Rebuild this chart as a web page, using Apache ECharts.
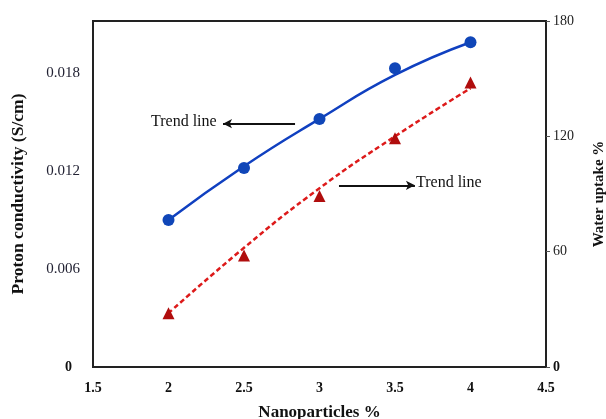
<!DOCTYPE html>
<html>
<head>
<meta charset="utf-8">
<script src="https://cdn.jsdelivr.net/npm/echarts@6/dist/echarts.min.js"></script>
<style>
  html, body { margin: 0; padding: 0; background: #fff; }
  #chart { width: 606px; height: 419px; }
</style>
</head>
<body>
<div id="chart"></div>
<script>
  // nanoparticle loading (%)
  var loading = [2, 2.5, 3, 3.5, 4];
  // measured values
  var conductivity = [0.0090, 0.0122, 0.0152, 0.0183, 0.0199];
  var waterUptake = [28, 58, 89, 119, 148];
  // trend lines
  var conductivityTrend = [0.0090, 0.0123, 0.0152, 0.0179, 0.0199];
  var uptakeTrend = [28, 62, 93, 120, 145];

  function pairs(xs, ys) {
    return xs.map(function (x, i) { return [x, ys[i]]; });
  }

  var serif = 'Liberation Serif';
  var chart = echarts.init(document.getElementById('chart'));

  var option = {
    animation: false,
    grid: {
      left: 93, right: 60, top: 21, bottom: 52,
      outerBoundsMode: 'none', containLabel: false,
      show: true, borderColor: '#222', borderWidth: 2
    },
    xAxis: {
      type: 'value',
      min: 1.5, max: 4.5, interval: 0.5,
      name: 'Nanoparticles %',
      nameLocation: 'middle', nameGap: 37,
      nameTextStyle: { fontFamily: serif, fontSize: 17, fontWeight: 'bold', color: '#111' },
      axisLine: { lineStyle: { color: '#222', width: 2 } },
      axisTick: { show: false },
      splitLine: { show: false },
      axisLabel: { fontFamily: serif, fontSize: 14, fontWeight: 'bold', color: '#111', margin: 14 }
    },
    yAxis: [{
      type: 'value',
      min: 0, max: 0.0212, interval: 0.006,
      name: 'Proton conductivity (S/cm)',
      nameLocation: 'middle', nameGap: 66,
      nameTextStyle: { fontFamily: serif, fontSize: 17.5, fontWeight: 'bold', color: '#111' },
      axisLine: { show: true, lineStyle: { color: '#222', width: 2 } },
      axisTick: { show: false },
      splitLine: { show: false },
      axisLabel: {
        fontFamily: serif, fontSize: 15, color: '#223', margin: 13, showMaxLabel: false,
        formatter: function (v) { return v === 0 ? '{b|0}' : v.toFixed(3); },
        rich: { b: { fontFamily: serif, fontSize: 14, fontWeight: 'bold', color: '#111', padding: [0, 8, 0, 0] } }
      }
    }, {
      type: 'value',
      position: 'right',
      min: 0, max: 180, interval: 60,
      name: 'Water uptake %',
      nameLocation: 'middle', nameGap: 46, nameRotate: 90,
      nameTextStyle: { fontFamily: serif, fontSize: 15, fontWeight: 'bold', color: '#111' },
      axisLine: { show: true, lineStyle: { color: '#222', width: 2 } },
      axisTick: { show: true, length: 4, lineStyle: { color: '#555' } },
      splitLine: { show: false },
      axisLabel: {
        fontFamily: serif, fontSize: 14, color: '#222', margin: 7,
        formatter: function (v) { return v === 0 ? '{b|0}' : v; },
        rich: { b: { fontFamily: serif, fontSize: 14, fontWeight: 'bold', color: '#111' } }
      }
    }],
    series: [{
      name: 'Conductivity trend',
      type: 'line', yAxisIndex: 0, smooth: true, showSymbol: false,
      data: pairs(loading, conductivityTrend),
      lineStyle: { color: '#1040c0', width: 2.5 },
      z: 2
    }, {
      name: 'Proton conductivity',
      type: 'scatter', yAxisIndex: 0,
      data: pairs(loading, conductivity),
      symbol: 'circle', symbolSize: 12,
      itemStyle: { color: '#1046b8', opacity: 1 },
      z: 3
    }, {
      name: 'Uptake trend',
      type: 'line', yAxisIndex: 1, smooth: true, showSymbol: false,
      data: pairs(loading, uptakeTrend),
      lineStyle: { color: '#dd1a1a', width: 2.5, type: [5, 3] },
      z: 2
    }, {
      name: 'Water uptake',
      type: 'scatter', yAxisIndex: 1,
      data: pairs(loading, waterUptake),
      symbol: 'triangle', symbolSize: 12,
      itemStyle: { color: '#b00d0d', opacity: 1 },
      z: 3,
      markLine: {
        silent: true,
        symbol: ['none', 'arrow'], symbolSize: [7, 9],
        lineStyle: { color: '#111', width: 2, type: 'solid' },
        label: { show: false },
        data: [
          [{ coord: [2.838, 126.6] }, { coord: [2.361, 126.6] }],
          [{ coord: [3.129, 94.5] }, { coord: [3.632, 94.5] }]
        ]
      }
    }],
    graphic: [{
      type: 'text', left: 151, top: 114,
      style: { text: 'Trend line', font: '16px "Liberation Serif"', fill: '#111' }
    }, {
      type: 'text', left: 416, top: 175,
      style: { text: 'Trend line', font: '16px "Liberation Serif"', fill: '#111' }
    }]
  };

  chart.setOption(option);
</script>
</body>
</html>
